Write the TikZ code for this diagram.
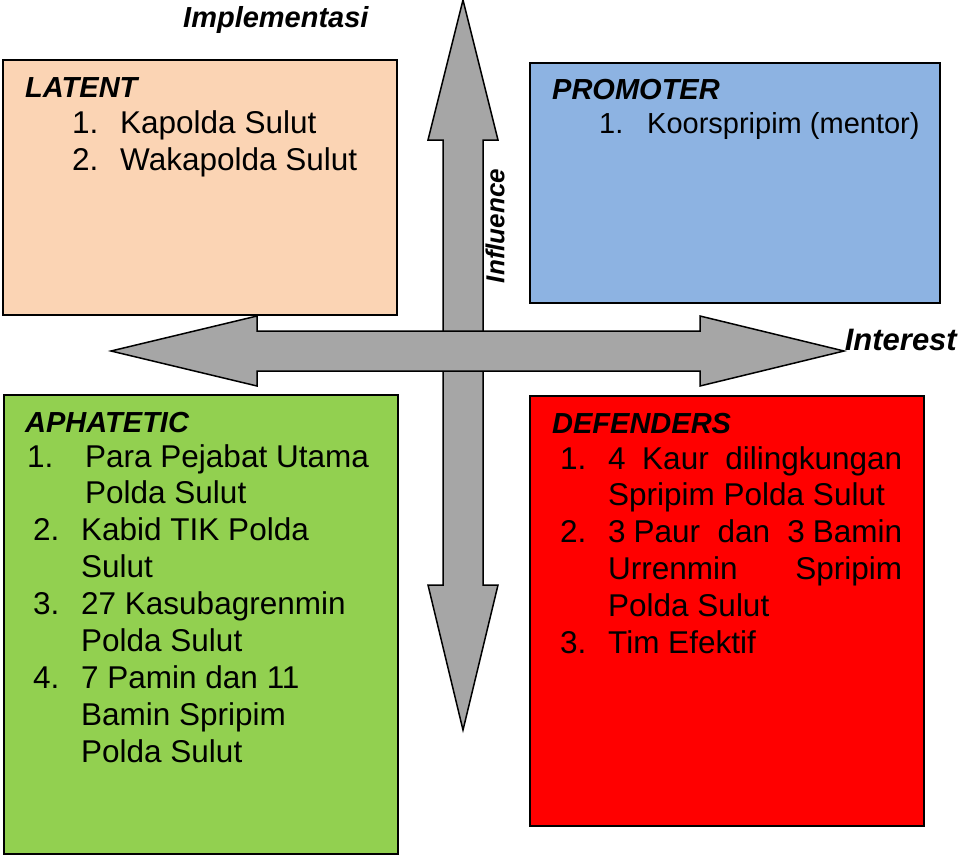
\documentclass[tikz,border=0pt]{standalone}
\usepackage{fontspec}
\setmainfont{Liberation Sans}
\usepackage{xcolor}
\usepackage{tikz}
\definecolor{latentc}{HTML}{FBD4B4}
\definecolor{promoterc}{HTML}{8DB3E2}
\definecolor{aphateticc}{HTML}{92D050}
\definecolor{defendersc}{HTML}{FF0000}
\definecolor{axisc}{HTML}{A6A6A6}

\begin{document}
\begin{tikzpicture}[
            x=1pt,y=-1pt,
            quad/.style={draw,line width=1.5pt,anchor=north west,inner sep=0pt},
            axis/.style={draw,line width=1.5pt,fill=axisc,line join=miter},
            head/.style={anchor=base west,inner sep=0pt,
                font=\fontsize{29}{35}\selectfont\bfseries\itshape},
            item/.style={anchor=base west,inner sep=0pt,
                font=\fontsize{31.5}{36}\selectfont},
            axislabel/.style={inner sep=0pt,font=\fontsize{#1}{#1}\selectfont\bfseries\itshape}
        ]
            \useasboundingbox (0,0) rectangle (958,854);

            % Quadrant boxes
            \node[quad,fill=latentc,minimum width=394pt,minimum height=255pt] (latent) at (2,59) {};
            \node[quad,fill=promoterc,minimum width=410pt,minimum height=240pt] (promoter) at (529,62) {};
            \node[quad,fill=aphateticc,minimum width=394pt,minimum height=459pt] (aphatetic) at (3,394) {};
            \node[quad,fill=defendersc,minimum width=394pt,minimum height=430pt] (defenders) at (529,395) {};

            % Axes
            \draw[axis] (463,0) -- (498,140) -- (483,140) -- (483,585) -- (498,585) -- (463,730)
                -- (428,585) -- (443,585) -- (443,140) -- (428,140) -- cycle;
            \draw[axis] (111,351) -- (257,316) -- (257,331) -- (700,331) -- (700,316) -- (844,351)
                -- (700,386) -- (700,371) -- (257,371) -- (257,386) -- cycle;

            % Axis labels
            \node[axislabel=29,anchor=base west] (impl) at (183,27) {Implementasi};
            \node[axislabel=26,rotate=90] (infl) at (495,226) {Influence};
            \node[axislabel=31,anchor=base east] (intr) at (957,350) {Interest};

            % Latent
            \node[head] (latentH) at (25,97) {LATENT};
            \foreach \t [count=\i] in {Kapolda Sulut, Wakapolda Sulut}
                \node[item] (latent\i) at (72,96+37*\i) {\makebox[48pt][l]{\i.}\t};

            % Promoter
            \node[head] (promoterH) at (552,99) {PROMOTER};
            \node[item,font=\fontsize{29}{35}\selectfont] (promoter1) at (599,133) {\makebox[48pt][l]{1.}Koorspripim (mentor)};

            % Aphatetic
            \node[head] (aphateticH) at (25,432) {APHATETIC};
            \foreach \x/\n/\k in {27/1/0, 33/2/2, 33/3/4, 33/4/6}
                \node[item] (aphateticN\n) at (\x,467+36.9*\k) {\n.};
            \foreach \x/\t [count=\i from 0] in {85/Para Pejabat Utama, 85/Polda Sulut, 81/Kabid TIK Polda,
                    81/Sulut, 81/27 Kasubagrenmin, 81/Polda Sulut, 81/7 Pamin dan 11,
                    81/Bamin Spripim, 81/Polda Sulut}
                \node[item] (aphatetic\i) at (\x,467+36.9*\i) {\t};

            % Defenders
            \node[head] (defendersH) at (552,433) {DEFENDERS};
            \foreach \n/\k in {1/0, 2/2, 3/5}
                \node[item] (defendersN\n) at (560,469+36.8*\k) {\n.};
            \foreach \t [count=\i from 0] in {{\makebox[294pt][s]{4 Kaur dilingkungan}},
                    Spripim Polda Sulut, {\makebox[294pt][s]{3\hspace{.25em}Paur dan 3\hspace{.25em}Bamin}},
                    {\makebox[294pt][s]{Urrenmin Spripim}}, Polda Sulut, Tim Efektif}
                \node[item] (defenders\i) at (608,469+36.8*\i) {\t};
        \end{tikzpicture}
\end{document}
